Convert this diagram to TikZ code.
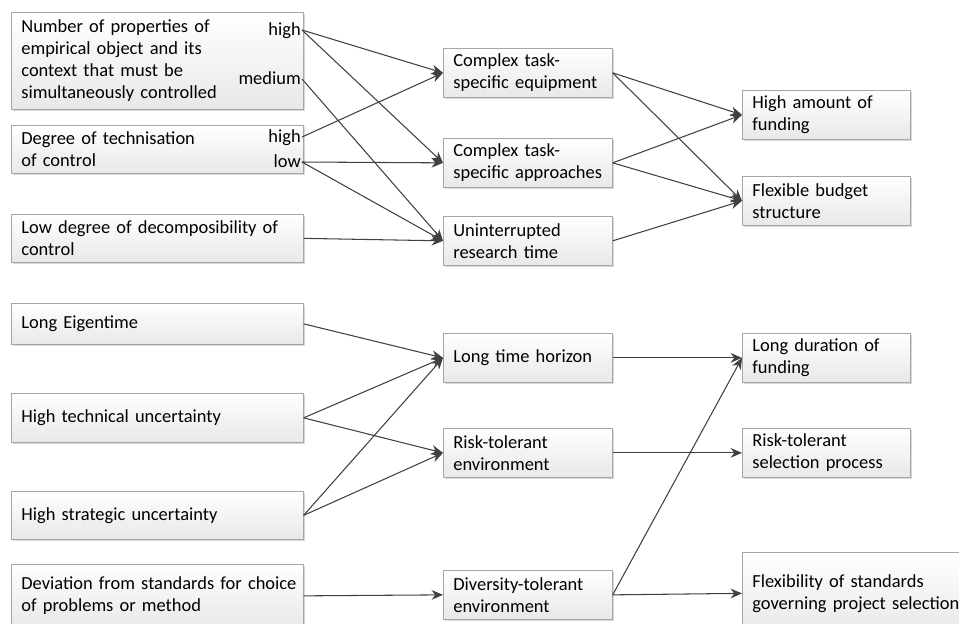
\documentclass[tikz,border=0pt]{standalone}
\usepackage{fontspec}
\setmainfont{Carlito}
\usetikzlibrary{arrows.meta,shadows}

\begin{document}
\begin{tikzpicture}[x=0.02cm,y=-0.02cm,
    box/.style={draw=black!35, top color=white, bottom color=black!9,
      drop shadow={shadow xshift=1pt,shadow yshift=-1pt,fill=black!30,opacity=.5},
      anchor=north west, align=left, inner xsep=0.2cm, inner ysep=0pt,
      font=\fontsize{10.5}{12.5}\selectfont},
    lbox/.style={box, text width=5.44cm},
    mbox/.style={box, text width=2.98cm, minimum height=0.98cm},
    rbox/.style={box, text width=2.96cm, minimum height=0.98cm},
    lvl/.style={anchor=east, inner sep=0.5pt, text height=1.5ex, text depth=.25ex,
      font=\fontsize{10.5}{12.5}\selectfont},
    arr/.style={draw=black!75, line width=0.6pt, -{Stealth[length=6.5pt,width=5.5pt]}}]
  \useasboundingbox (0,0) rectangle (959,623);

  %% upper part: control
  \node[lbox, minimum height=1.94cm] (props) at (11,12)
    {Number of properties of\\ empirical object and its\\ context that must be\\ simultaneously controlled};
  \node[lbox, minimum height=0.96cm] (techn) at (11,125) {Degree of technisation\\ of control};
  \node[lbox, minimum height=0.96cm] (decomp) at (11,214) {\mbox{Low degree of decomposibility of}\\ control};
  \node[lvl] (propsHigh) at (302,30) {high};
  \node[lvl] (propsMed) at (302,79) {medium};
  \node[lvl] (technHigh) at (302,137) {high};
  \node[lvl] (technLow) at (302,162) {low};

  \node[mbox] (equip) at (443,48) {Complex task-\\ specific equipment};
  \node[mbox] (approach) at (443,138) {Complex task-\\ specific approaches};
  \node[mbox] (uninter) at (443,216) {Uninterrupted\\ research time};

  \node[rbox] (amount) at (742,90) {High amount of\\ funding};
  \node[rbox] (budget) at (742,176) {Flexible budget\\ structure};

  \draw[arr] (propsHigh.east) -- (equip.west);
  \draw[arr] (propsHigh.east) -- (approach.west);
  \draw[arr] (propsMed.east) -- (uninter.west);
  \draw[arr] (technHigh.east) -- (equip.west);
  \draw[arr] (technLow.east) -- (approach.west);
  \draw[arr] (technLow.east) -- (uninter.west);
  \draw[arr] (decomp.east) -- (uninter.west);

  \draw[arr] (equip.east) -- (amount.west);
  \draw[arr] (equip.east) -- (budget.west);
  \draw[arr] (approach.east) -- (amount.west);
  \draw[arr] (approach.east) -- (budget.west);
  \draw[arr] (uninter.east) -- (budget.west);

  %% lower part: time and risk
  \node[lbox, minimum height=0.82cm] (eigen) at (11,303) {Long Eigentime};
  \node[lbox, minimum height=0.98cm] (techunc) at (11,393) {High technical uncertainty};
  \node[lbox, minimum height=0.96cm] (stratunc) at (11,491) {High strategic uncertainty};
  \node[lbox, minimum height=1.26cm] (deviat) at (11,564)
    {\mbox{Deviation from standards for choice}\\ of problems or method};

  \node[mbox] (horizon) at (443,333) {Long time horizon};
  \node[mbox] (riskenv) at (443,428) {Risk-tolerant\\ environment};
  \node[mbox] (divenv) at (443,570) {Diversity-tolerant\\ environment};

  \node[rbox] (duration) at (742,333) {Long duration of\\ funding};
  \node[rbox] (risksel) at (742,428) {Risk-tolerant\\ selection process};
  \node[box, text width=4.2cm, minimum height=1.64cm] (flexstd) at (742,552)
    {Flexibility of standards\\ governing project selection};

  \draw[arr] (eigen.east) -- (horizon.west);
  \draw[arr] (techunc.east) -- (horizon.west);
  \draw[arr] (techunc.east) -- (riskenv.west);
  \draw[arr] (stratunc.east) -- (horizon.west);
  \draw[arr] (stratunc.east) -- (riskenv.west);
  \draw[arr] (deviat.east) -- (divenv.west);

  \draw[arr] (horizon.east) -- (duration.west);
  \draw[arr] (riskenv.east) -- (risksel.west);
  \draw[arr] (divenv.east) -- (duration.west);
  \draw[arr] (divenv.east) -- (flexstd.west); % last one
\end{tikzpicture}
\end{document}
